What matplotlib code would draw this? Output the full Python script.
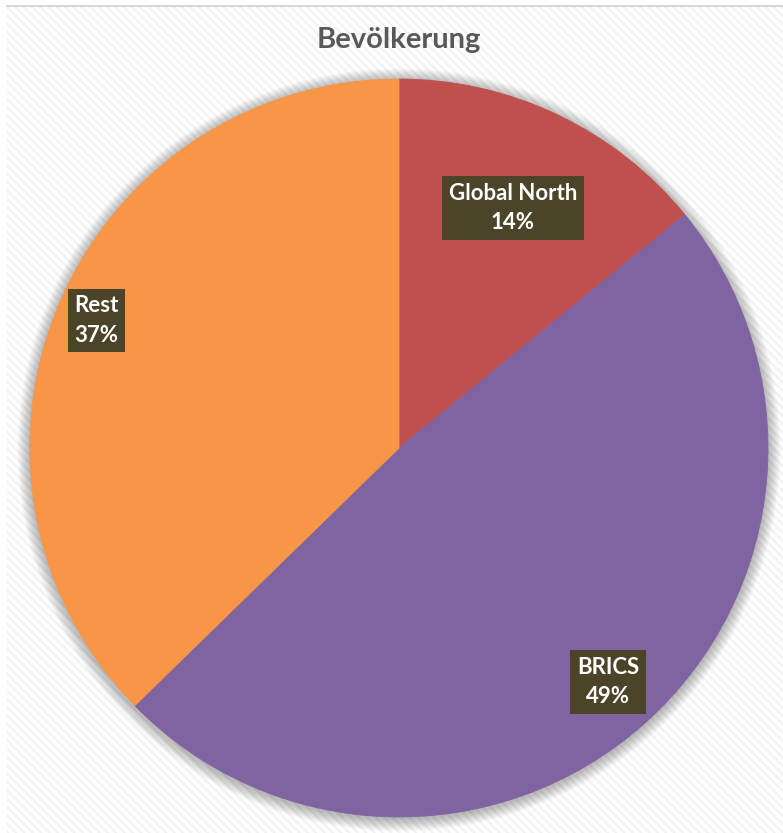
import numpy as np
import matplotlib
matplotlib.use("Agg")
import matplotlib.pyplot as plt
from matplotlib.patches import Rectangle, Circle

# data
regions = ["Global North", "BRICS", "Rest"]
shares = [14.1, 48.6, 37.3]
colors = ["#C0504D", "#8064A2", "#F79646"]

# where the labels sit along each wedge (fraction of radius)
label_radius = [0.72, 0.85, 0.89]

plt.rcParams['font.family'] = ['Lato', 'DejaVu Sans']
plt.rcParams['hatch.linewidth'] = 1.6
plt.rcParams['hatch.color'] = '#f2f2f2'

W, H = 783, 833
fig = plt.figure(figsize=(W / 100, H / 100), dpi=100)
fig.patch.set_facecolor('white')

# chart area with the diagonal stripe pattern
bg = Rectangle((7 / W, 0), 1 - 7 / W, 1 - 7 / H, transform=fig.transFigure,
               facecolor='white', edgecolor='#f2f2f2', hatch='\\\\\\\\',
               linewidth=0, zorder=-5)
fig.add_artist(bg)
fig.add_artist(plt.Line2D([7 / W, 1], [1 - 6 / H, 1 - 6 / H], color='#d9d9d9',
                          linewidth=1.5, transform=fig.transFigure, zorder=-4))

cx, cy, r = 399, 448, 369
ax = fig.add_axes([(cx - r) / W, (H - cy - r) / H, 2 * r / W, 2 * r / H])
ax.set_facecolor('none')
ax.set_zorder(1)

# soft shadow around the pie
for k in range(12, 0, -1):
    sh = Circle((0, -0.005), 1 + k * 0.0028, facecolor='black',
                alpha=0.022, edgecolor='none', clip_on=False, zorder=1)
    ax.add_patch(sh)

wedges, _ = ax.pie(shares, colors=colors, startangle=90, counterclock=False,
                   radius=1.0,
                   wedgeprops=dict(linewidth=0.6, zorder=2))
for w, c in zip(wedges, colors):
    w.set_edgecolor(c)
    w.set_zorder(2)

for w, name, val, rr in zip(wedges, regions, shares, label_radius):
    ang = np.deg2rad((w.theta1 + w.theta2) / 2)
    ax.text(rr * np.cos(ang), rr * np.sin(ang), f"{name}\n{val:.0f}%",
            ha='center', va='center', color='white', fontsize=16,
            fontweight='bold', linespacing=1.5, zorder=5,
            bbox=dict(boxstyle='square,pad=0.3', facecolor='#4B4429',
                      edgecolor='none'))

ax.set_xlim(-1, 1)
ax.set_ylim(-1, 1)
ax.set_aspect('equal')
ax.axis('off')

fig.text(399 / W, 1 - 40 / H, "Bevölkerung", ha='center', va='center',
         fontsize=21, fontweight='bold', color='#595959')

fig.savefig("out.png", dpi=100)
